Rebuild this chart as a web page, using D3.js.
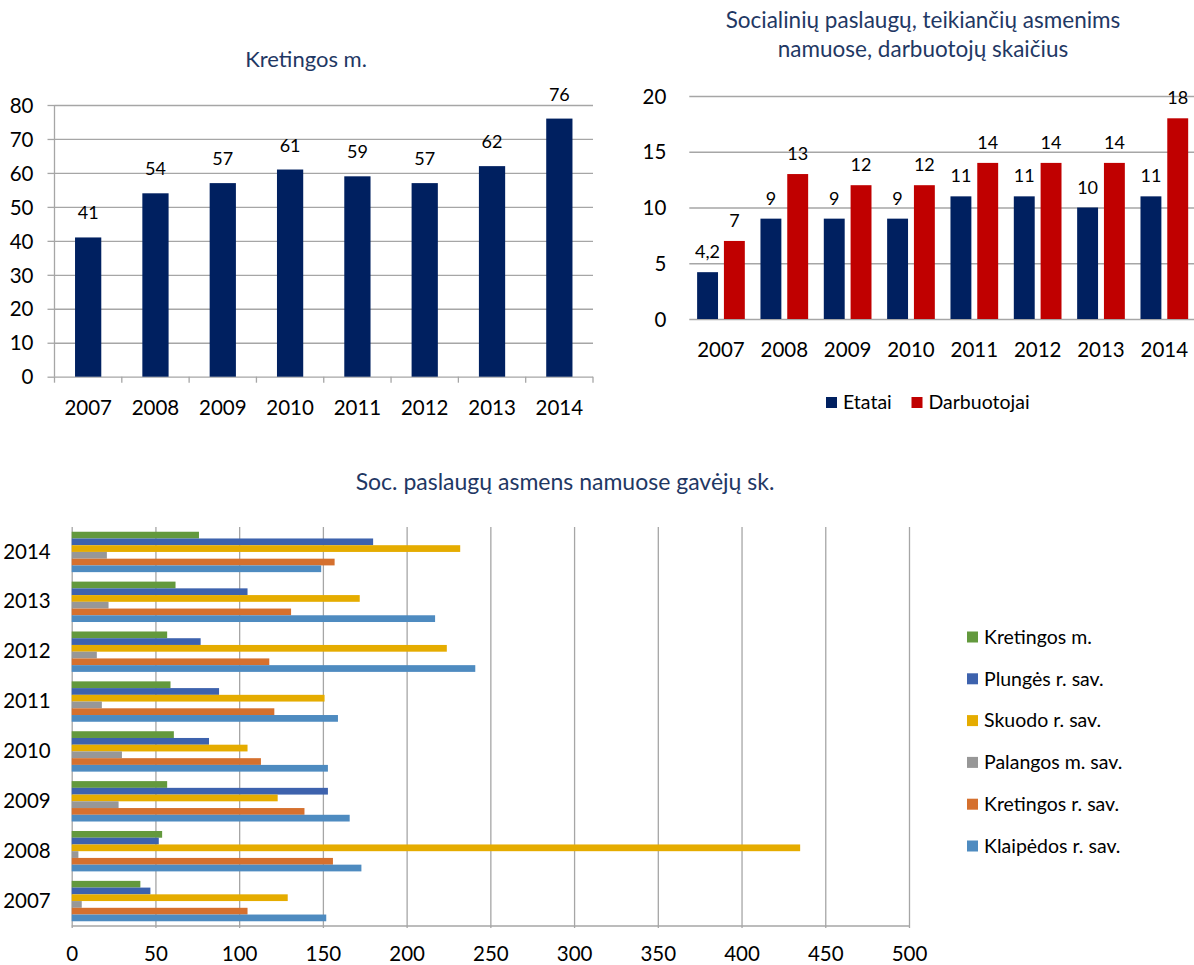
<!DOCTYPE html>
<html>
<head>
<meta charset="utf-8">
<script src="https://cdn.jsdelivr.net/npm/d3@7"></script>
<style>
  body { margin: 0; background: #fff; }
  svg text { font-family: Lato, "Open Sans", sans-serif; fill: #000; }
  .grid line { stroke: #a6a6a6; stroke-width: 1.3; }
  .grid .domain { display: none; }
  .title { fill: #1f3864 !important; }
</style>
</head>
<body>
<svg id="chart" width="1194" height="965"></svg>
<script>
/*--- Data ---*/
const years = ["2007", "2008", "2009", "2010", "2011", "2012", "2013", "2014"];

// top left: Kretingos m.
const kretingosM = [41, 54, 57, 61, 59, 57, 62, 76];

// top right: workers
const staffSeries = ["Etatai", "Darbuotojai"];
const etatai = [4.2, 9, 9, 9, 11, 11, 10, 11];
const darbuotojai = [7, 13, 12, 12, 14, 14, 14, 18];

// bottom: recipients by municipality
const municipalities = ["Kretingos m.", "Plungės r. sav.", "Skuodo r. sav.",
                        "Palangos m. sav.", "Kretingos r. sav.", "Klaipėdos r. sav."];
const recKretingosM  = [41, 54, 57, 61, 59, 57, 62, 76];
const recPlunge      = [47, 52, 153, 82, 88, 77, 105, 180];
const recSkuodas     = [129, 435, 123, 105, 151, 224, 172, 232];
const recPalanga     = [6, 4, 28, 30, 18, 15, 22, 21];
const recKretingosR  = [105, 156, 139, 113, 121, 118, 131, 157];
const recKlaipeda    = [152, 173, 166, 153, 159, 241, 217, 149];
const recipients = [recKretingosM, recPlunge, recSkuodas, recPalanga, recKretingosR, recKlaipeda];

const muniColors = ["#63993d", "#3d62ad", "#e5ac00", "#979797", "#d5702e", "#4e8bc0"];
const navy = "#002060", red = "#c00000";

const svg = d3.select("#chart");
const fmt = v => String(v).replace(".", ",");

// font sizes
const axisFont = 20.5, labelFont = 18, legendFont = 19.5;

/*--- Top left chart ---*/
function drawKretingos() {
    const g = svg.append("g");
    const x = d3.scaleBand().domain(years).range([54.5, 593]).paddingInner(0.61).paddingOuter(0.305);
    const y = d3.scaleLinear().domain([0, 80]).range([376.7, 105]);

    g.append("text").attr("class", "title")
        .attr("x", 306).attr("y", 67).attr("text-anchor", "middle")
        .attr("font-size", 22).text("Kretingos m.");

    // gridlines
    g.append("g").attr("class", "grid")
        .attr("transform", "translate(54.5,0)")
        .call(d3.axisLeft(y).ticks(8).tickSize(-(593 - 54.5)).tickFormat(""));

    // y axis labels + small ticks
    const ya = g.append("g").attr("class", "grid")
        .attr("transform", "translate(54.5,0)")
        .call(d3.axisLeft(y).ticks(8).tickSize(7).tickPadding(14));
    ya.selectAll("text").attr("font-size", axisFont).attr("dy", "0.35em");

    g.append("line").attr("x1", 54.5).attr("x2", 54.5).attr("y1", y(80)).attr("y2", y(0))
        .attr("stroke", "#a6a6a6").attr("stroke-width", 1.3);

    // category tick marks
    g.selectAll("line.ctick").data(d3.range(years.length + 1)).join("line")
        .attr("class", "ctick")
        .attr("x1", i => 54.5 + i * x.step()).attr("x2", i => 54.5 + i * x.step())
        .attr("y1", y(0)).attr("y2", y(0) + 6)
        .attr("stroke", "#a6a6a6").attr("stroke-width", 1.3);

    g.selectAll("text.xl").data(years).join("text")
        .attr("class", "xl")
        .attr("x", d => x(d) + x.bandwidth() / 2).attr("y", 415)
        .attr("text-anchor", "middle").attr("font-size", axisFont).text(d => d);

    g.selectAll("rect").data(kretingosM).join("rect")
        .attr("x", (d, i) => x(years[i])).attr("width", x.bandwidth())
        .attr("y", d => y(d)).attr("height", d => y(0) - y(d))
        .attr("fill", navy);

    g.selectAll("text.lbl").data(kretingosM).join("text")
        .attr("class", "lbl")
        .attr("x", (d, i) => x(years[i]) + x.bandwidth() / 2)
        .attr("y", d => y(d) - 18)
        .attr("text-anchor", "middle").attr("font-size", labelFont).text(d => d);
}

/*--- Top right chart ---*/
function drawStaff() {
    const g = svg.append("g");
    const x0 = d3.scaleBand().domain(years).range([689.3, 1196]).paddingInner(0.247).paddingOuter(0.1235);
    const x1 = d3.scaleBand().domain(staffSeries).range([0, x0.bandwidth()]).paddingInner(0.22);
    const y = d3.scaleLinear().domain([0, 20]).range([319, 96]);
    const values = [etatai, darbuotojai];
    const colors = [navy, red];

    g.append("text").attr("class", "title").attr("x", 923).attr("y", 28)
        .attr("text-anchor", "middle").attr("font-size", 22.5)
        .text("Socialinių paslaugų, teikiančių asmenims");
    g.append("text").attr("class", "title").attr("x", 923).attr("y", 57)
        .attr("text-anchor", "middle").attr("font-size", 22.5)
        .text("namuose, darbuotojų skaičius");

    g.append("g").attr("class", "grid")
        .attr("transform", "translate(689.3,0)")
        .call(d3.axisLeft(y).ticks(4).tickSize(-(1196 - 689.3)).tickPadding(23))
        .selectAll("text").attr("font-size", axisFont).attr("dy", "0.35em");

    g.selectAll("text.xl").data(years).join("text")
        .attr("class", "xl")
        .attr("x", d => x0(d) + x0.bandwidth() / 2).attr("y", 357)
        .attr("text-anchor", "middle").attr("font-size", axisFont).text(d => d);

    staffSeries.forEach((s, si) => {
        g.selectAll("rect.s" + si).data(values[si]).join("rect")
            .attr("class", "s" + si)
            .attr("x", (d, i) => x0(years[i]) + x1(s)).attr("width", x1.bandwidth())
            .attr("y", d => y(d)).attr("height", d => y(0) - y(d))
            .attr("fill", colors[si]);
        g.selectAll("text.l" + si).data(values[si]).join("text")
            .attr("class", "l" + si)
            .attr("x", (d, i) => x0(years[i]) + x1(s) + x1.bandwidth() / 2)
            .attr("y", d => y(d) - 14)
            .attr("text-anchor", "middle").attr("font-size", labelFont).text(d => fmt(d));
    });

    // legend
    const legX = [826, 911.5];
    staffSeries.forEach((s, si) => {
        g.append("rect").attr("x", legX[si]).attr("y", 397).attr("width", 11).attr("height", 11)
            .attr("fill", colors[si]);
        g.append("text").attr("x", legX[si] + 17).attr("y", 409)
            .attr("font-size", legendFont).text(s);
    });
}

/*--- Bottom chart ---*/
function drawRecipients() {
    const g = svg.append("g");
    const left = 71.7, right = 909, top = 527, bottom = 926;
    const x = d3.scaleLinear().domain([0, 500]).range([left, right]);
    const y0 = d3.scaleBand().domain(years.slice().reverse()).range([top, bottom])
        .paddingInner(0.19).paddingOuter(0.095);
    const y1 = d3.scaleBand().domain(municipalities).range([0, y0.bandwidth()]);

    g.append("text").attr("class", "title").attr("x", 565).attr("y", 490)
        .attr("text-anchor", "middle").attr("font-size", 23)
        .text("Soc. paslaugų asmens namuose gavėjų sk.");

    // vertical gridlines, extended a bit below the axis as ticks
    g.append("g").attr("class", "grid")
        .attr("transform", `translate(0,${bottom + 2})`)
        .call(d3.axisBottom(x).tickValues(d3.range(0, 501, 50)).tickSize(-(bottom - top + 2)).tickFormat(""));

    const xa = g.append("g").attr("class", "grid")
        .attr("transform", `translate(0,${bottom})`)
        .call(d3.axisBottom(x).tickValues(d3.range(0, 501, 50)).tickSize(0).tickPadding(20));
    xa.selectAll("text").attr("font-size", axisFont);

    g.append("line").attr("x1", left).attr("x2", right).attr("y1", bottom).attr("y2", bottom)
        .attr("stroke", "#a6a6a6").attr("stroke-width", 1.5);

    const ya = g.append("g").attr("class", "grid")
        .attr("transform", `translate(${left},0)`)
        .call(d3.axisLeft(y0).tickSize(0).tickPadding(21));
    ya.selectAll("text").attr("font-size", axisFont);

    municipalities.forEach((m, mi) => {
        g.selectAll("rect.m" + mi).data(recipients[mi]).join("rect")
            .attr("class", "m" + mi)
            .attr("x", left)
            .attr("y", (d, i) => y0(years[i]) + y1(m))
            .attr("height", y1.bandwidth())
            .attr("width", d => x(d) - left)
            .attr("fill", muniColors[mi]);
    });

    // legend
    municipalities.forEach((m, mi) => {
        const cy = 637 + mi * 41.8;
        g.append("rect").attr("x", 967).attr("y", cy - 5.5).attr("width", 11).attr("height", 11)
            .attr("fill", muniColors[mi]);
        g.append("text").attr("x", 984).attr("y", cy).attr("dy", "0.35em")
            .attr("font-size", legendFont).text(m);
    });
}

drawKretingos();
drawStaff();
drawRecipients();
</script>
</body>
</html>
